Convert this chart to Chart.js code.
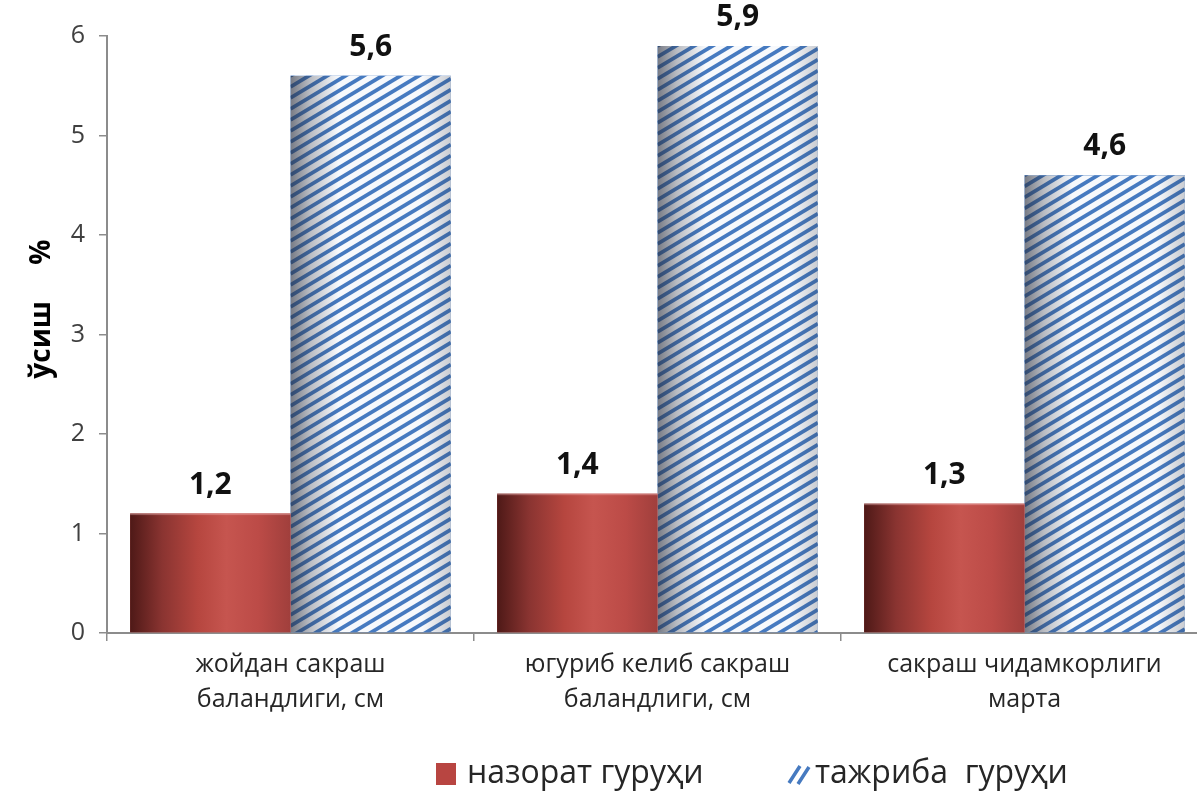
<!DOCTYPE html>
<html>
<head>
<meta charset="utf-8">
<script src="https://cdn.jsdelivr.net/npm/chart.js@4.4.1/dist/chart.umd.min.js"></script>
<style>
html, body { margin: 0; padding: 0; background: #fff; overflow: hidden; }
#wrap { width: 1215px; height: 792px; }
</style>
</head>
<body>
<div id="wrap"><canvas id="growthChart"></canvas></div>
<script>
const categories = [
    ["жойдан сакраш", "баландлиги, см"],
    ["югуриб келиб сакраш", "баландлиги, см"],
    ["сакраш чидамкорлиги", "марта"]
];
const controlGroup = [1.2, 1.4, 1.3];      // назорат гуруҳи
const experimentGroup = [5.6, 5.9, 4.6];   // тажриба гуруҳи
const seriesNames = ["назорат гуруҳи", "тажриба  гуруҳи"];
const yMin = 0, yMax = 6, yStep = 1;
const yTitle = "       ўсиш     %";

const FONT = '"Open Sans", "DejaVu Sans", sans-serif';
const STRIPE_BLUE = 'rgb(70,122,192)';

// cylinder-like shading for the red bars
function paintRed(ctx, left, top, w, h){
    const g = ctx.createLinearGradient(left, 0, left + w, 0);
    g.addColorStop(0, '#4e1917');
    g.addColorStop(0.2, '#8a3431');
    g.addColorStop(0.42, '#b6463f');
    g.addColorStop(0.6, '#c6554f');
    g.addColorStop(0.8, '#bc4b47');
    g.addColorStop(1, '#a03f3c');
    ctx.fillStyle = g;
    ctx.fillRect(left, top, w, h);
    ctx.fillStyle = 'rgba(255,200,200,0.35)';
    ctx.fillRect(left, top, w, 1.5);
}

// white bar with diagonal blue stripes and shaded edges
function paintStripes(ctx, left, top, w, h){
    ctx.beginPath();
    ctx.rect(left, top, w, h);
    ctx.clip();
    ctx.fillStyle = '#f7f9fc';
    ctx.fillRect(left, top, w, h);
    const k = 0.6, period = 11;
    ctx.strokeStyle = STRIPE_BLUE;
    ctx.lineWidth = 3.8;
    for(let c = top; c < top + h + k*w + period; c += period){
        ctx.beginPath();
        ctx.moveTo(left, c);
        ctx.lineTo(left + w, c - k*w);
        ctx.stroke();
    }
    const g = ctx.createLinearGradient(left, 0, left + w, 0);
    g.addColorStop(0, 'rgba(40,45,60,0.62)');
    g.addColorStop(0.12, 'rgba(40,45,60,0.3)');
    g.addColorStop(0.3, 'rgba(40,45,60,0)');
    g.addColorStop(0.82, 'rgba(40,45,60,0)');
    g.addColorStop(1, 'rgba(40,45,60,0.22)');
    ctx.fillStyle = g;
    ctx.fillRect(left, top, w, h);
}

const barShading = {
    id: 'barShading',
    afterDatasetDraw(chart, args){
        const ctx = chart.ctx;
        args.meta.data.forEach(bar => {
            const {x, y, base, width} = bar.getProps(['x', 'y', 'base', 'width'], true);
            const left = x - width/2;
            ctx.save();
            if(args.index === 0){
                paintRed(ctx, left, y, width, base - y);
            }else{
                paintStripes(ctx, left, y, width, base - y);
            }
            ctx.restore();
        });
    }
};

// value labels above the bars, decimal comma
const valueLabels = {
    id: 'valueLabels',
    afterDatasetsDraw(chart){
        const ctx = chart.ctx;
        ctx.save();
        ctx.font = 'bold 30px ' + FONT;
        ctx.fillStyle = '#111';
        ctx.textAlign = 'center';
        ctx.textBaseline = 'alphabetic';
        chart.data.datasets.forEach((ds, i) => {
            chart.getDatasetMeta(i).data.forEach((bar, j) => {
                ctx.fillText(String(ds.data[j]).replace('.', ','), bar.x, bar.y - 20);
            });
        });
        ctx.restore();
    }
};

// legend row under the axis labels
const bottomLegend = {
    id: 'bottomLegend',
    afterDraw(chart){
        const ctx = chart.ctx;
        const ly = 774;
        ctx.save();
        ctx.font = '32px ' + FONT;
        ctx.textBaseline = 'middle';
        ctx.textAlign = 'left';

        let lx = 436;
        ctx.fillStyle = '#b84541';
        ctx.fillRect(lx, ly - 11, 20, 22);
        ctx.fillStyle = '#262626';
        ctx.fillText(seriesNames[0], lx + 31, ly);

        lx = 788;
        ctx.strokeStyle = STRIPE_BLUE;
        ctx.lineWidth = 3.5;
        ctx.beginPath();
        ctx.moveTo(lx + 1, ly + 9);  ctx.lineTo(lx + 12, ly - 8);
        ctx.moveTo(lx + 10, ly + 10); ctx.lineTo(lx + 21, ly - 7);
        ctx.stroke();
        ctx.fillText(seriesNames[1], lx + 27, ly);
        ctx.restore();
    }
};

const ctx = document.getElementById("growthChart").getContext("2d");
window.growthChart = new Chart(ctx, {
    type: 'bar',
    data: {
        labels: categories,
        datasets: [{
            label: seriesNames[0],
            data: controlGroup,
            backgroundColor: '#c0504d',
        }, {
            label: seriesNames[1],
            data: experimentGroup,
            backgroundColor: STRIPE_BLUE,
        }]
    },
    options: {
        responsive: true,
        maintainAspectRatio: false,
        animation: false,
        layout: { padding: { top: 36, right: 7, bottom: 64, left: 0 } },
        datasets: { bar: { categoryPercentage: 0.874, barPercentage: 1 } },
        plugins: {
            legend: { display: false },
            tooltip: { enabled: false }
        },
        scales: {
            x: {
                grid: { drawOnChartArea: false, drawTicks: true, tickLength: 8, color: '#8c8c8c', lineWidth: 1.5 },
                border: { color: '#8c8c8c', width: 2 },
                ticks: { color: '#262626', padding: 6, font: { family: FONT, size: 25, lineHeight: 1.4 }, maxRotation: 0 },
                afterFit(scale){ scale.height = 95; }
            },
            y: {
                min: yMin,
                max: yMax,
                ticks: { stepSize: yStep, color: '#404040', padding: 14, font: { family: FONT, size: 25 } },
                grid: { drawOnChartArea: false, drawTicks: true, tickLength: 8, color: '#8c8c8c', lineWidth: 1.5 },
                border: { color: '#8c8c8c', width: 2 },
                title: { display: true, text: yTitle, color: '#000', padding: { top: 25 }, font: { family: FONT, size: 28, weight: 'bold' } },
                afterFit(scale){ scale.width = 107; }
            }
        }
    },
    plugins: [barShading, valueLabels, bottomLegend]
});
</script>
</body>
</html>
